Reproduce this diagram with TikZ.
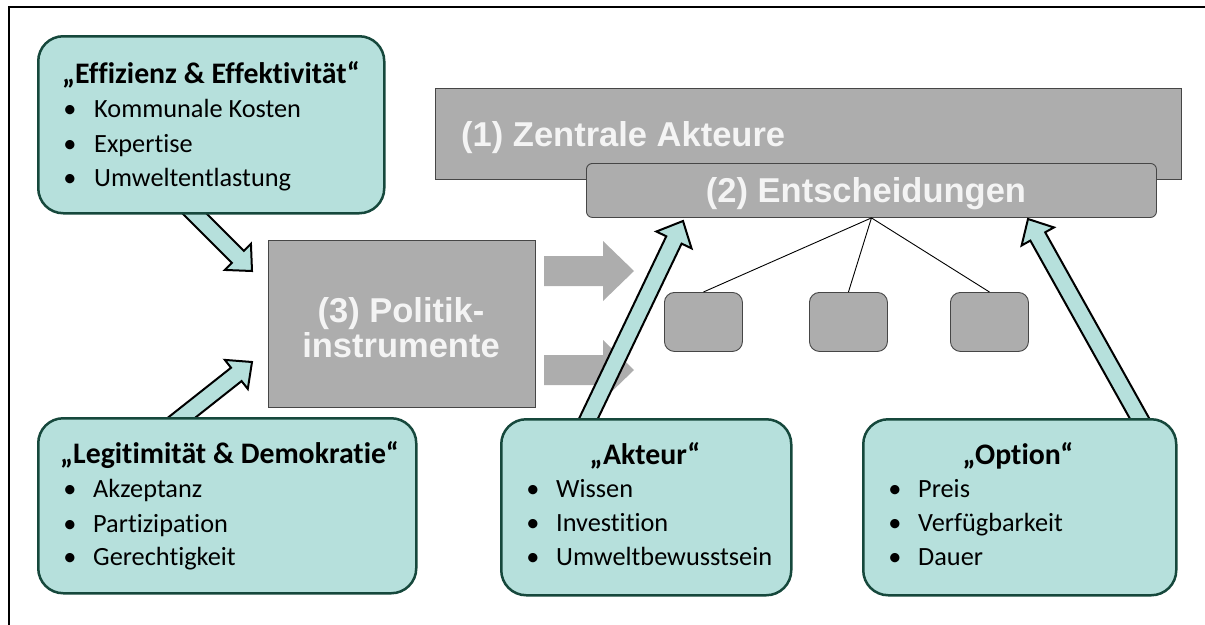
\documentclass[tikz,border=0pt]{standalone}
\usepackage{fontspec}
\setmainfont{Carlito}[Ligatures=NoCommon]
\newfontfamily\grfont{Liberation Sans}
\usetikzlibrary{calc}
\definecolor{tealfill}{RGB}{182,224,220}
\definecolor{tealline}{RGB}{22,72,60}
\definecolor{greyfill}{RGB}{173,173,173}
\definecolor{greyline}{RGB}{70,70,70}
\definecolor{greytext}{RGB}{244,244,244}
\tikzset{
  tealbox/.style={draw=tealline, fill=tealfill, line width=2.5pt, rounded corners=25pt, inner sep=0pt, anchor=north west},
  greybox/.style={draw=greyline, fill=greyfill, line width=0.9pt, inner sep=0pt, anchor=north west},
  smallbox/.style={greybox, rounded corners=10pt, minimum width=78pt, minimum height=59pt},
  tealarrow/.style={draw=black, fill=tealfill, line width=2pt, line join=miter},
  greyarrow/.style={fill=greyfill, draw=none},
  hubline/.style={draw=black, line width=0.9pt},
  frameline/.style={draw=black, line width=2.6pt},
  grtext/.style={text=greytext, inner sep=0pt, font=\grfont\bfseries\fontsize{34.5}{35}\selectfont},
  ttitle/.style={inner sep=0pt, font=\bfseries\fontsize{29.8}{32}\selectfont},
  titem/.style={inner sep=0pt, anchor=base west, font=\fontsize{26.3}{30}\selectfont},
  tbullet/.style={inner sep=0pt, anchor=base, font=\fontsize{26.3}{30}\selectfont},
}
% style, name, from, to, half shaft, half head, head length
\newcommand\blockarrow[7]{%
  \coordinate (#2-c) at ($(#4)!#7!(#3)$);
  \path[#1] ($(#3)!#5!90:(#4)$) -- ($(#2-c)!#5!90:(#4)$) -- ($(#2-c)!#6!90:(#4)$)
    -- (#4) -- ($(#2-c)!#6!-90:(#4)$) -- ($(#2-c)!#5!-90:(#4)$) -- ($(#3)!#5!-90:(#4)$) -- cycle;
}
\begin{document}
\begin{tikzpicture}[x=1pt,y=-1pt]
\useasboundingbox (0,0) rectangle (1205,624);
\begin{scope}
\clip (0,0) rectangle (1205,624);
\draw[frameline] (9,7) rectangle (1220,640);
\end{scope}

% grey structure
\node[greybox, minimum width=746pt, minimum height=91pt] (Z1) at (435,88) {};
\node[grtext, anchor=base west] (Z1t) at (461,146) {(1) Zentrale Akteure};
\node[greybox, rounded corners=6pt, minimum width=570pt, minimum height=54pt] (D2) at (586,163) {};
\node[grtext, anchor=base] (D2t) at (866,202) {(2) Entscheidungen};

\node[smallbox] (s1) at (664,292) {};
\node[smallbox] (s2) at (809,292) {};
\node[smallbox] (s3) at (950,292) {};
\draw[hubline] (D2.south) -- (s1.north);
\draw[hubline] (D2.south) -- (s2.north);
\draw[hubline] (D2.south) -- (s3.north);

\node[greybox, line width=1.2pt, minimum width=267pt, minimum height=167pt] (P3) at (268,240) {};
\node[grtext, anchor=base] (P3a) at (401,322) {(3) Politik-};
\node[grtext, anchor=base] (P3b) at (401,357) {instrumente};

\coordinate (g1s) at (544,271);
\coordinate (g1t) at (634,271);
\coordinate (g2s) at (544,370);
\coordinate (g2t) at (634,370);
\blockarrow{greyarrow}{g1}{g1s}{g1t}{15pt}{30pt}{31pt}
\blockarrow{greyarrow}{g2}{g2s}{g2t}{15pt}{30pt}{31pt}

% teal arrows
\coordinate (eas) at (175,194);
\coordinate (eat) at (252,271);
\coordinate (las) at (166,430);
\coordinate (lat) at (252,362);
\coordinate (aas) at (583,430);
\coordinate (aat) at (683,221);
\coordinate (oas) at (1146,430);
\coordinate (oat) at (1028,219);
\blockarrow{tealarrow}{ea}{eas}{eat}{8.5pt}{18.5pt}{20pt}
\blockarrow{tealarrow}{la}{las}{lat}{8.5pt}{18.5pt}{20pt}
\blockarrow{tealarrow}{aa}{aas}{aat}{8.5pt}{19.5pt}{21pt}
\blockarrow{tealarrow}{oa}{oas}{oat}{8.5pt}{18.5pt}{20pt}

% teal boxes
\node[tealbox, minimum width=346pt, minimum height=177pt] (E) at (37,35) {};
\node[ttitle, anchor=base west] (Et) at (62,83) {„Effizienz \& Effektivität“};
\node[tbullet] (Eb1) at (70,117) {•};
\node[titem] (Ei1) at (94,117) {Kommunale Kosten};
\node[tbullet] (Eb2) at (70,152) {•};
\node[titem] (Ei2) at (94,152) {Expertise};
\node[tbullet] (Eb3) at (70,186) {•};
\node[titem] (Ei3) at (94,186) {Umweltentlastung};

\node[tealbox, minimum width=378pt, minimum height=175pt] (L) at (37,417) {};
\node[ttitle, anchor=base west] (Lt) at (60,463) {„Legitimität \& Demokratie“};
\node[tbullet] (Lb1) at (70,497) {•};
\node[titem] (Li1) at (93,497) {Akzeptanz};
\node[tbullet] (Lb2) at (70,532) {•};
\node[titem] (Li2) at (93,532) {Partizipation};
\node[tbullet] (Lb3) at (70,565) {•};
\node[titem] (Li3) at (93,565) {Gerechtigkeit};

\node[tealbox, minimum width=290pt, minimum height=176pt] (A) at (500,418) {};
\node[ttitle, anchor=base] (At) at (645,464) {„Akteur“};
\node[tbullet] (Ab1) at (533,497) {•};
\node[titem] (Ai1) at (556,497) {Wissen};
\node[tbullet] (Ab2) at (533,531) {•};
\node[titem] (Ai2) at (556,531) {Investition};
\node[tbullet] (Ab3) at (533,565) {•};
\node[titem] (Ai3) at (556,565) {Umweltbewusstsein};

\node[tealbox, minimum width=313pt, minimum height=176pt] (O) at (862,418) {};
\node[ttitle, anchor=base] (Ot) at (1018,464) {„Option“};
\node[tbullet] (Ob1) at (895,497) {•};
\node[titem] (Oi1) at (918,497) {Preis};
\node[tbullet] (Ob2) at (895,531) {•};
\node[titem] (Oi2) at (918,531) {Verfügbarkeit};
\node[tbullet] (Ob3) at (895,565) {•};
\node[titem] (Oi3) at (918,565) {Dauer};
\end{tikzpicture}
\end{document}
